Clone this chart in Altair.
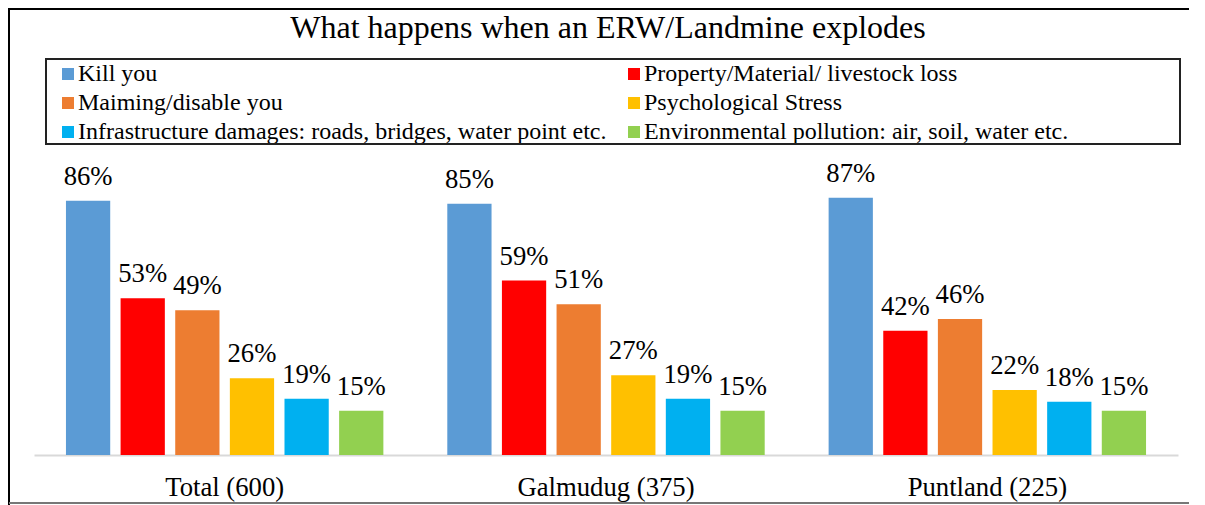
import altair as alt
import pandas as pd

TITLE = "What happens when an ERW/Landmine explodes"
REGIONS = ["Total (600)", "Galmudug (375)", "Puntland (225)"]
SERIES = [
    "Kill you",
    "Property/Material/ livestock loss",
    "Maiming/disable you",
    "Psychological Stress",
    "Infrastructure damages: roads, bridges, water point etc.",
    "Environmental pollution: air, soil, water etc.",
]
COLORS = ["#5B9BD5", "#FF0000", "#ED7D31", "#FFC000", "#00B0F0", "#92D050"]
TOTAL = [86, 53, 49, 26, 19, 15]
GALMUDUG = [85, 59, 51, 27, 19, 15]
PUNTLAND = [87, 42, 46, 22, 18, 15]

rows = []
for region, vals in zip(REGIONS, [TOTAL, GALMUDUG, PUNTLAND]):
    for s, v in zip(SERIES, vals):
        rows.append({"region": region, "series": s, "value": v / 100})
df = pd.DataFrame(rows)
leg_df = pd.DataFrame({"series": SERIES, "idx": list(range(len(SERIES)))})

FONT = "Liberation Serif"
PW, PH = 1144, 295.6

color_scale = alt.Scale(domain=SERIES, range=COLORS)

x_enc = alt.X(
    "region:N", sort=REGIONS,
    scale=alt.Scale(paddingInner=0, paddingOuter=0),
    axis=alt.Axis(title=None, labelAngle=0, ticks=False, domainColor="#D9D9D9",
                  domainWidth=2, labelFont=FONT, labelFontSize=26.7,
                  labelColor="black", labelPadding=19, grid=False),
)
xo_enc = alt.XOffset("series:N", sort=SERIES,
                     scale=alt.Scale(paddingInner=0.19, paddingOuter=0.585))
y_enc = alt.Y("value:Q", scale=alt.Scale(domain=[0, 1]), axis=None)

base = alt.Chart(df)
bars = base.mark_bar().encode(
    x=x_enc, xOffset=xo_enc, y=y_enc,
    color=alt.Color("series:N", sort=SERIES, scale=color_scale, legend=None),
)
labels = base.mark_text(baseline="alphabetic", dy=-16, font=FONT, fontSize=26.7,
                        color="black").encode(
    x=x_enc, xOffset=xo_enc, y=y_enc, text=alt.Text("value:Q", format=".0%")
)

# legend built from the series list (2 columns, row-major)
leg = alt.Chart(leg_df).transform_calculate(
    row="floor(datum.idx / 2)", col="datum.idx % 2"
).transform_calculate(
    sx="34 + datum.col * 566", sy="-85.4 + datum.row * 29",
    tx="44 + datum.col * 566", ty="-78.7 + datum.row * 29",
)
leg_sym = leg.mark_square(size=144, opacity=1).encode(
    x=alt.X("sx:Q", scale=None), y=alt.Y("sy:Q", scale=None),
    color=alt.Color("series:N", scale=color_scale, legend=None),
)
leg_txt = leg.mark_text(align="left", baseline="alphabetic", font=FONT, fontSize=24,
                        color="black").encode(
    x=alt.X("tx:Q", scale=None), y=alt.Y("ty:Q", scale=None), text="series:N",
)

one = alt.Data(values=[{"t": TITLE}])
title = alt.Chart(one).mark_text(font=FONT, fontSize=32, baseline="alphabetic",
                                 align="center", color="black").encode(
    x=alt.value(574), y=alt.value(-121), text="t:N")
legend_box = alt.Chart(one).mark_rect(fillOpacity=0, stroke="#222", strokeWidth=2).encode(
    x=alt.value(12), x2=alt.value(1146), y=alt.value(-100.4), y2=alt.value(-15.4))
frame_left = alt.Chart(one).mark_rule(color="black", strokeWidth=2).encode(
    x=alt.value(-25), x2=alt.value(-25), y=alt.value(-151.4), y2=alt.value(345.6))
frame_top = alt.Chart(one).mark_rule(color="black", strokeWidth=2).encode(
    x=alt.value(-25), x2=alt.value(1155), y=alt.value(-150.4), y2=alt.value(-150.4))
frame_bottom = alt.Chart(one).mark_rule(color="#777", strokeWidth=2).encode(
    x=alt.value(-25), x2=alt.value(1155), y=alt.value(343.6), y2=alt.value(343.6))

chart = alt.layer(bars, labels, leg_sym, leg_txt, title, legend_box,
                  frame_left, frame_top, frame_bottom).properties(
    width=PW, height=PH,
    padding={"left": 26, "top": 151.4, "right": 11, "bottom": 50},
    autosize=alt.AutoSizeParams(type="none"),
).configure(font=FONT).configure_view(stroke=None)

chart.save("out.html", embed_options={"renderer": "svg", "actions": False})
